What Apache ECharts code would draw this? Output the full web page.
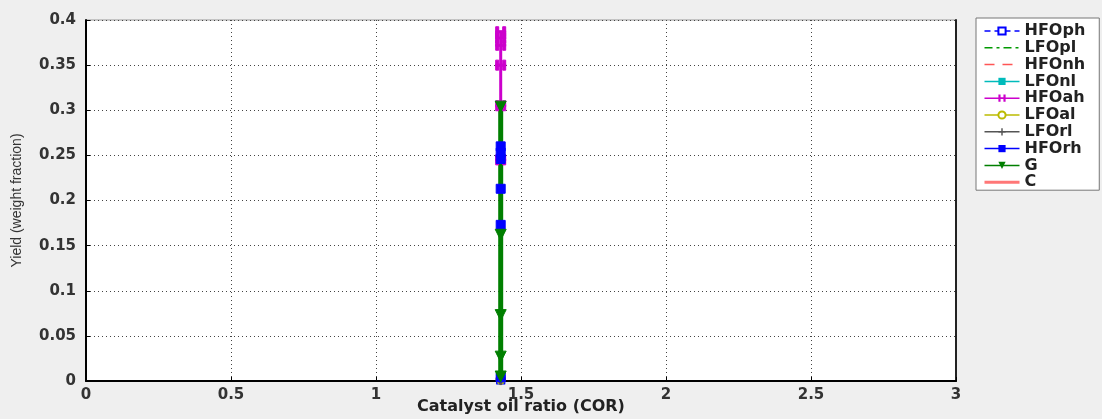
<!DOCTYPE html>
<html><head><meta charset="utf-8">
<script src="https://cdn.jsdelivr.net/npm/echarts@6/dist/echarts.min.js"></script>
<style>html,body{margin:0;padding:0;background:#efefef}#c{width:1102px;height:419px}</style>
</head><body><div id="c"></div>
<script>
const COR = 1.43;
const seriesNames = ['HFOph','LFOpl','HFOnh','LFOnl','HFOah','LFOal','LFOrl','HFOrh','G','C'];
const HFOph = [0.004, 0.002, 0.001];
const LFOpl = [0.003, 0.002, 0.001];
const HFOnh = [0.003, 0.002, 0.001];
const LFOnl = [0.003, 0.002, 0.001];
const HFOah = [0.387, 0.380, 0.372, 0.350, 0.305, 0.245];
const LFOal = [0.003, 0.002, 0.001];
const LFOrl = [0.003, 0.002, 0.001];
const HFOrh = [0.260, 0.253, 0.246, 0.213, 0.173, 0.004];
const G = [0.304, 0.162, 0.073, 0.027, 0.005];
const C = [0.007, 0.004, 0.001];
const xTicks = [0, 0.5, 1, 1.5, 2, 2.5, 3];
const yTicks = [0, 0.05, 0.1, 0.15, 0.2, 0.25, 0.3, 0.35, 0.4];

const plusPath = 'path://M4,0h2v4h4v2h-4v4h-2v-4h-4v-2h4z';
const tickPath = 'path://M0,0h3v10h-3z M7,0h3v10h-3z M0,4h10v2h-10z';
const styles = {
  HFOph:{color:'#0000ff', type:[6,4], width:1, symbol:'emptyRect', size:7},
  LFOpl:{color:'#009900', type:[8,4,3,4], width:1, symbol:'none', size:0},
  HFOnh:{color:'#ff5555', type:[10,8], width:1, symbol:'none', size:0},
  LFOnl:{color:'#00bbbb', type:'solid', width:1, symbol:'rect', size:6},
  HFOah:{color:'#cc00cc', type:'solid', width:3, symbol:tickPath, size:10},
  LFOal:{color:'#bbbb00', type:'solid', width:1, symbol:'emptyCircle', size:7},
  LFOrl:{color:'#555555', type:'solid', width:1, symbol:plusPath, size:9},
  HFOrh:{color:'#0000ff', type:'solid', width:1, symbol:'rect', size:9},
  G:{color:'#007f00', type:'solid', width:5, symbol:'triangle', size:11, rotate:180},
  C:{color:'#ff0000', type:'solid', width:5, symbol:'none', size:0}
};
const dataMap = {HFOph,LFOpl,HFOnh,LFOnl,HFOah,LFOal,LFOrl,HFOrh,G,C};

const series = seriesNames.map(n => {
  const s = styles[n];
  const noSym = s.symbol === 'none';
  return {
    name:n, type:'line',
    data: dataMap[n].map(v => [COR, v]),
    symbol: noSym ? 'circle' : s.symbol, symbolSize: s.size, symbolRotate: s.rotate || 0,
    showSymbol: !noSym,
    lineStyle:{color:s.color, width:s.width, type:s.type},
    itemStyle: noSym ? {color:'transparent', borderColor:'transparent', borderWidth:0}
                     : {color:s.color, borderColor:s.color},
    emphasis:{disabled:true}, animation:false, z: 2
  };
});
const legendData = seriesNames.map(n => n === 'C'
  ? {name:n, lineStyle:{width:3, color:'#ff7777'}}
  : {name:n});

const chart = echarts.init(document.getElementById('c'), null, {renderer:'canvas'});
chart.setOption({
  backgroundColor:'#efefef',
  animation:false,
  grid:{left:86, top:20, right:146, bottom:38, outerBoundsMode:'none', containLabel:false,
        show:true, backgroundColor:'#ffffff', borderColor:'#999999', borderWidth:1},
  legend:{
    orient:'vertical', left:976, top:18, data:legendData,
    itemWidth:35, itemHeight:9, itemGap:0.8,
    backgroundColor:'#ffffff', borderColor:'#777777', borderWidth:1,
    padding:[5,14,0,7],
    lineStyle:{width:1.5},
    textStyle:{fontFamily:'DejaVu Sans', fontWeight:'bold', fontSize:16, lineHeight:12, color:'#222222'}
  },
  xAxis:{
    type:'value', min:0, max:3, interval:0.5,
    name:'Catalyst oil ratio (COR)', nameLocation:'middle', nameGap:18, nameMoveOverlap:false,
    nameTextStyle:{fontFamily:'DejaVu Sans', fontWeight:'bold', fontSize:16, color:'#222'},
    axisLine:{show:true, onZero:false, lineStyle:{color:'#000', width:2}},
    axisTick:{show:true, inside:true, length:4, lineStyle:{color:'#000'}},
    axisLabel:{fontFamily:'DejaVu Sans', fontWeight:'bold', fontSize:15, color:'#333', margin:7,
      formatter: v => String(v)},
    splitLine:{show:true, lineStyle:{color:'#444', type:[1,3], width:1}}
  },
  yAxis:[{
    type:'value', min:0, max:0.4, interval:0.05,
    name:'Yield (weight fraction)', nameLocation:'middle', nameGap:62, nameRotate:90,
    nameTextStyle:{fontFamily:'Liberation Sans Narrow, Liberation Sans', fontSize:14, color:'#333'},
    axisLine:{show:true, lineStyle:{color:'#000', width:2}},
    axisTick:{show:true, inside:true, length:4, lineStyle:{color:'#000'}},
    axisLabel:{fontFamily:'DejaVu Sans', fontWeight:'bold', fontSize:15, color:'#333', margin:10,
      formatter: v => String(+v.toFixed(2))},
    splitLine:{show:true, lineStyle:{color:'#444', type:[1,3], width:1}}
  },{
    type:'value', min:0, max:0.4, interval:0.05, position:'right',
    axisLine:{show:true, lineStyle:{color:'#222', width:2}},
    axisTick:{show:false}, axisLabel:{show:false}, splitLine:{show:false}
  }],
  series: series
});
</script></body></html>
